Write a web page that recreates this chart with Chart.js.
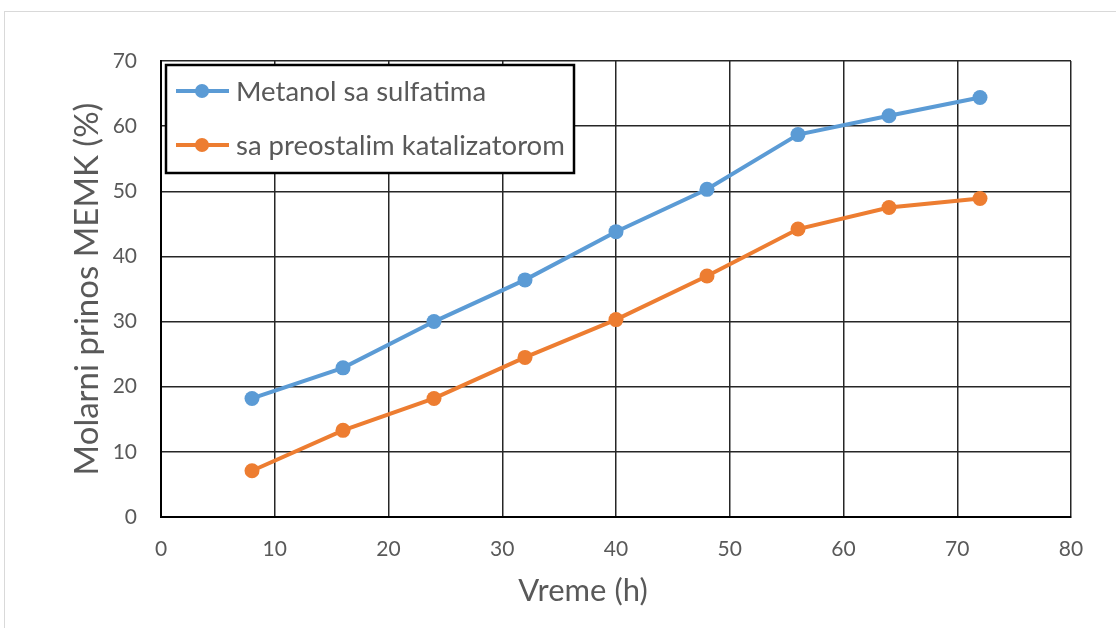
<!DOCTYPE html>
<html>
<head>
<meta charset="utf-8">
<script src="https://cdn.jsdelivr.net/npm/chart.js@4.4.0/dist/chart.umd.min.js"></script>
<style>
  html, body { margin: 0; padding: 0; background: #fff; }
  #wrap { width: 1116px; height: 628px; }
</style>
</head>
<body>
<div id="wrap"><canvas id="c" width="1116" height="628"></canvas></div>
<script>
// sati
const hours = [8, 16, 24, 32, 40, 48, 56, 64, 72];
// Metanol sa sulfatima
const metanolYield = [18.2, 22.9, 30.0, 36.4, 43.8, 50.3, 58.7, 61.6, 64.4];
// sa preostalim katalizatorom
const katalizatorYield = [7.1, 13.3, 18.2, 24.5, 30.3, 37.0, 44.2, 47.5, 48.9];
const seriesNames = ['Metanol sa sulfatima', 'sa preostalim katalizatorom'];
const xTitle = 'Vreme (h)';
const yTitle = 'Molarni prinos MEMK (%)';

const FONT = 'Lato, "Liberation Sans", sans-serif';
const TEXT = '#595959';

const toPoints = (ys) => hours.map((h, i) => ({ x: h, y: ys[i] }));

// svetlo siv okvir oko cele slike
const frame = {
    id: 'frame',
    beforeDraw(chart) {
        const ctx = chart.ctx;
        ctx.save();
        ctx.strokeStyle = '#d9d9d9';
        ctx.lineWidth = 1;
        ctx.strokeRect(4.5, 11.5, 1300, 800);
        ctx.restore();
    }
};

// legenda u kutiji unutar grafika + naslov x ose
const boxLegend = {
    id: 'boxLegend',
    afterDraw(chart) {
        const ctx = chart.ctx;
        const area = chart.chartArea;
        const x0 = area.left + 5, y0 = area.top + 4;
        ctx.save();
        ctx.fillStyle = '#fff';
        ctx.fillRect(x0, y0, 408, 108);
        ctx.strokeStyle = '#000';
        ctx.lineWidth = 2.5;
        ctx.strokeRect(x0, y0, 408, 108);
        chart.data.datasets.forEach((ds, i) => {
            const cy = y0 + 26 + i * 54;
            ctx.strokeStyle = ds.borderColor;
            ctx.lineWidth = 4;
            ctx.beginPath();
            ctx.moveTo(x0 + 10, cy);
            ctx.lineTo(x0 + 63, cy);
            ctx.stroke();
            ctx.fillStyle = ds.borderColor;
            ctx.beginPath();
            ctx.arc(x0 + 36, cy, 7, 0, Math.PI * 2);
            ctx.fill();
            ctx.fillStyle = TEXT;
            ctx.font = '27.5px ' + FONT;
            ctx.textBaseline = 'middle';
            ctx.textAlign = 'left';
            ctx.fillText(ds.label, x0 + 70, cy + 1);
        });
        ctx.font = '31px ' + FONT;
        ctx.fillStyle = TEXT;
        ctx.textAlign = 'center';
        ctx.textBaseline = 'middle';
        ctx.fillText(xTitle, 583, 591);
        ctx.restore();
    }
};

new Chart(document.getElementById('c'), {
    type: 'line',
    data: {
        datasets: [{
            label: seriesNames[0],
            data: toPoints(metanolYield),
            borderColor: '#5B9BD5',
            backgroundColor: '#5B9BD5',
            borderWidth: 4,
            pointRadius: 7.5,
            pointBorderWidth: 0,
            tension: 0
        }, {
            label: seriesNames[1],
            data: toPoints(katalizatorYield),
            borderColor: '#ED7D31',
            backgroundColor: '#ED7D31',
            borderWidth: 4,
            pointRadius: 7.5,
            pointBorderWidth: 0,
            tension: 0
        }]
    },
    options: {
        responsive: false,
        animation: false,
        layout: { padding: { top: 61, right: 45, left: 0, bottom: 0 } },
        plugins: {
            legend: { display: false },
            tooltip: { enabled: false }
        },
        scales: {
            x: {
                type: 'linear',
                min: 0,
                max: 80,
                afterFit: (s) => { s.height = 111; },
                ticks: { stepSize: 10, padding: 20, color: TEXT, font: { size: 21, family: FONT } },
                grid: { color: '#262626', lineWidth: 1.5, drawTicks: false },
                border: { color: '#000', width: 2 },
                title: { display: false }
            },
            y: {
                min: 0,
                max: 70,
                afterFit: (s) => { s.width = 161; },
                ticks: { stepSize: 10, padding: 24, color: TEXT, font: { size: 21, family: FONT } },
                grid: { color: '#262626', lineWidth: 1.5, drawTicks: false },
                border: { color: '#000', width: 2 },
                title: {
                    display: true,
                    text: yTitle,
                    color: TEXT,
                    font: { size: 33, family: FONT },
                    padding: { top: 68, bottom: 0 }
                }
            }
        }
    },
    plugins: [frame, boxLegend]
});
</script>
</body>
</html>
